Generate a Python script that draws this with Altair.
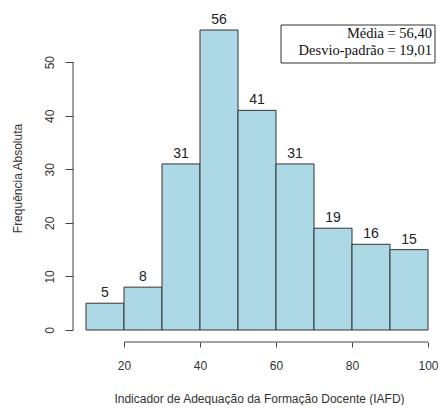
import altair as alt
import pandas as pd

bin_start = [10, 20, 30, 40, 50, 60, 70, 80, 90]
bin_end = [20, 30, 40, 50, 60, 70, 80, 90, 100]
counts = [5, 8, 31, 56, 41, 31, 19, 16, 15]
x_ticks = [20, 40, 60, 80, 100]
y_ticks = [0, 10, 20, 30, 40, 50]
stats_lines = ["Média = 56,40", "Desvio-padrão = 19,01"]
x_title = "Indicador de Adequação da Formação Docente (IAFD)"
y_title = "Frequência Absoluta"

df = pd.DataFrame({"start": bin_start, "end": bin_end, "count": counts})
df["mid"] = (df["start"] + df["end"]) / 2

W, H = 365, 324
xs = alt.Scale(domain=[6.58, 102.63], nice=False, zero=False)
ys = alt.Scale(domain=[-2.24, 58.24], nice=False, zero=False)

AX = "#444444"
FONT = "Liberation Sans"

bars = alt.Chart(df).mark_bar(fill="#ADD8E6", stroke="#333333", strokeWidth=1).encode(
    x=alt.X("start:Q", scale=xs, axis=alt.Axis(
        values=x_ticks, domain=False, grid=False, tickSize=5, tickColor=AX,
        labelFont=FONT, labelFontSize=12, labelColor="#333333", labelBaseline="alphabetic",
        labelPadding=22, labelFlush=False,
        title=x_title, titleFont=FONT, titleFontSize=12, titleFontWeight="normal",
        titleColor="#333333", titleBaseline="alphabetic", titleAlign="center",
        titleX=186, titleY=60)),
    x2="end:Q",
    y=alt.Y("count:Q", scale=ys, axis=alt.Axis(
        values=y_ticks, domain=False, grid=False, tickSize=8, tickColor=AX,
        labelFont=FONT, labelFontSize=12, labelColor="#333333", labelAngle=-90,
        labelAlign="center", labelBaseline="alphabetic", labelPadding=12, labelFlush=False,
        title=y_title, titleFont=FONT, titleFontSize=12, titleFontWeight="normal",
        titleColor="#333333", titleAngle=-90, titleBaseline="alphabetic",
        titleAlign="center", titleX=-52, titleY=160)),
    y2=alt.datum(0),
)

labels = alt.Chart(df).mark_text(baseline="alphabetic", dy=-6, fontSize=14, font=FONT,
                                  color="#222222").encode(
    x=alt.X("mid:Q", scale=xs), y=alt.Y("count:Q", scale=ys), text="count:Q")

xdom = alt.Chart(pd.DataFrame({"a": [min(x_ticks)], "b": [max(x_ticks)]})).mark_rule(
    color=AX, strokeWidth=1).encode(x=alt.X("a:Q", scale=xs), x2="b:Q", y=alt.value(H))

ydom = alt.Chart(pd.DataFrame({"a": [min(y_ticks)], "b": [max(y_ticks)]})).mark_rule(
    color=AX, strokeWidth=1).encode(y=alt.Y("a:Q", scale=ys), y2="b:Q", x=alt.value(0))

one = pd.DataFrame({"k": [0]})
box = alt.Chart(one).mark_rect(fill="white", stroke="#333333", strokeWidth=1).encode(
    x=alt.value(208), x2=alt.value(362), y=alt.value(7), y2=alt.value(45))
stats = alt.Chart(one).mark_text(align="right", baseline="top", font="Liberation Serif",
                                 fontSize=14.5, lineHeight=17, color="#111111",
                                 text=stats_lines).encode(
    x=alt.value(359), y=alt.value(9))

chart = alt.layer(bars, labels, xdom, ydom, box, stats).properties(
    width=W, height=H,
    autosize=alt.AutoSizeParams(type="none"),
    padding={"left": 65, "top": 10, "right": 0, "bottom": 63},
).configure_view(stroke=None)

chart.save("out.html", embed_options={"renderer": "svg", "actions": False})
